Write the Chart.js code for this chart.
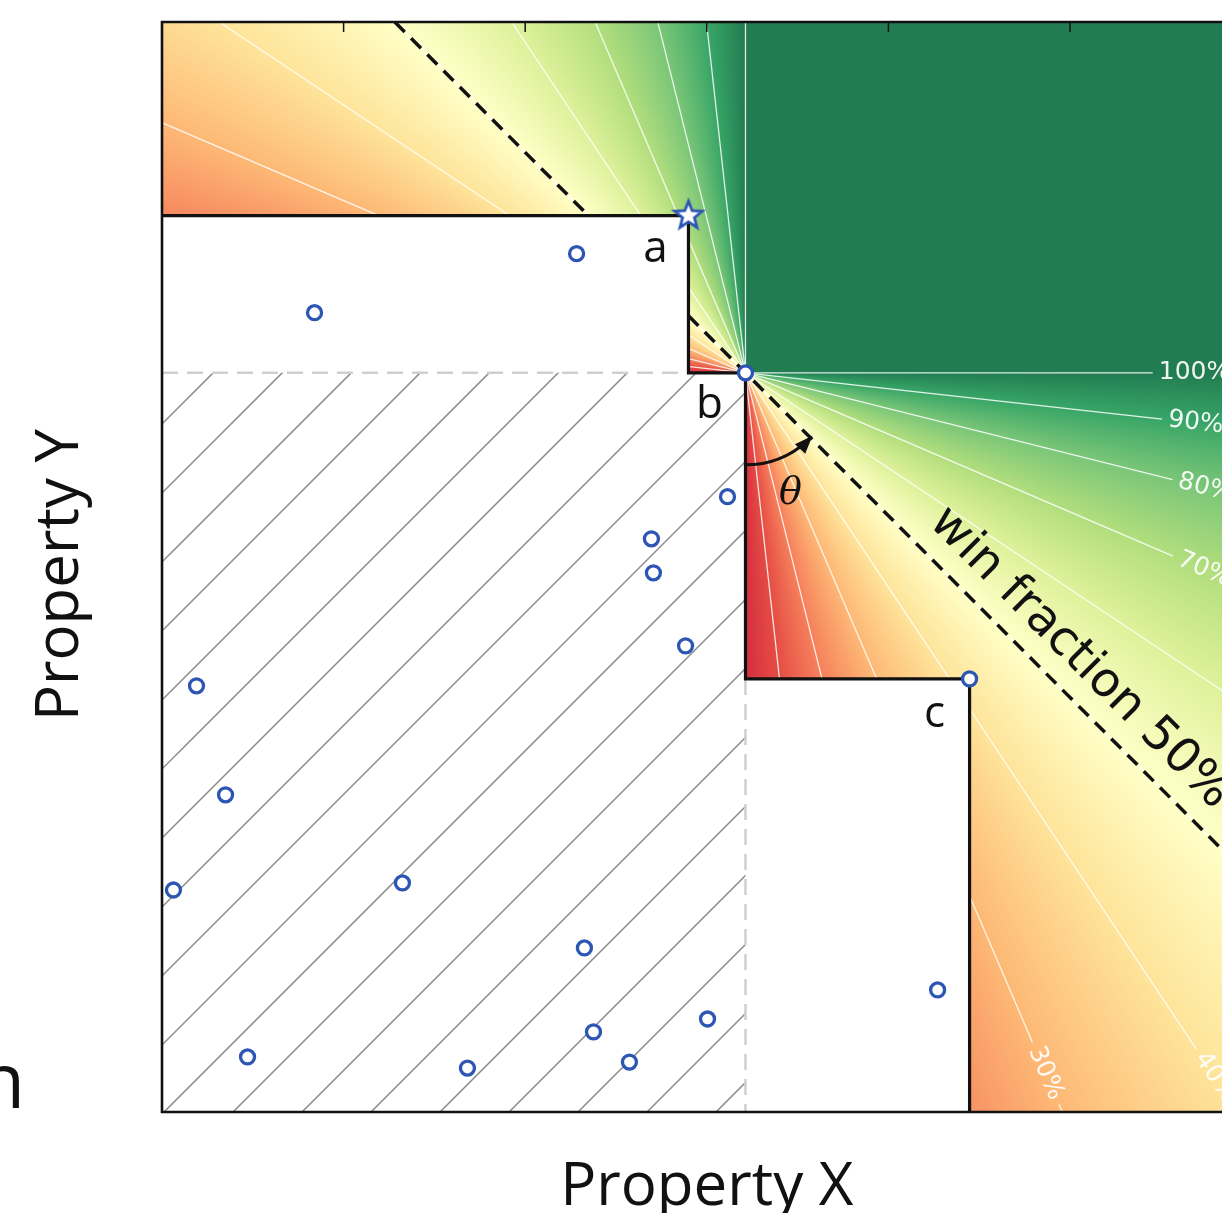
<!DOCTYPE html>
<html lang="en">
<head>
<meta charset="UTF-8" />
<title>Win fraction</title>
<script src="https://cdn.jsdelivr.net/npm/chart.js"></script>
<style>
  html, body { margin: 0; padding: 0; background: #fff; overflow: hidden; }
  canvas { display: block; }
</style>
</head>
<body>
<canvas id="chart" width="1222" height="1213"></canvas>
<script>
// candidates (open blue circles), in axis units
const candX = [2.283, 0.840, 3.114, 2.695, 2.706, 2.883, 0.190, 0.350, 0.063, 1.324, 2.326, 2.376, 3.004, 2.574, 1.682, 0.471, 4.271];
const candY = [4.725, 4.400, 3.387, 3.155, 2.968, 2.566, 2.346, 1.746, 1.222, 1.261, 0.903, 0.441, 0.512, 0.275, 0.242, 0.303, 0.672];

// pareto front points a, b, c (b is the reference for theta)
const frontNames = ['a', 'b', 'c'];
const frontX = [2.899, 3.213, 4.447];
const frontY = [4.934, 4.069, 2.384];

// win fraction contour levels
const levels = [0.1, 0.2, 0.3, 0.4, 0.5, 0.6, 0.7, 0.8, 0.9, 1.0];
const levelNames = ['10%', '20%', '30%', '40%', '50%', '60%', '70%', '80%', '90%', '100%'];

const xTicks = [1, 2, 3, 4, 5];
const xMax = 5.837, yMax = 6;

const ax = frontX[0], ay = frontY[0];
const bx = frontX[1], by = frontY[1];
const cx = frontX[2], cy = frontY[2];

const BLUE = '#2d55b4';

// RdYlGn-like, with a brighter red end
const rdylgn = [[205,15,35],[225,50,40],[244,109,67],[253,174,97],[254,224,139],[255,255,191],
                [217,239,139],[166,217,106],[102,189,99],[26,152,80],[0,104,55]];
const ALPHA = 0.87;
function cmap(f) {
    const t = Math.max(0, Math.min(1, f)) * 10;
    const i = Math.min(9, Math.floor(t));
    const u = t - i;
    const c0 = rdylgn[i], c1 = rdylgn[i + 1];
    return c0.map((v, k) => {
        const c = v + (c1[k] - v) * u;
        return Math.round(255 + (c - 255) * ALPHA);
    });
}
const lut = [];
for (let i = 0; i <= 1000; i++) lut.push(cmap(i / 1000));

// where the inline contour labels sit (px from b along the ray)
const labelAt = { 2: 762, 3: 847, 6: 499, 7: 474, 8: 453, 9: 449 };

// star marker for point a
const starImg = document.createElement('canvas');
starImg.width = 38; starImg.height = 38;
(function () {
    const g = starImg.getContext('2d');
    g.beginPath();
    for (let k = 0; k < 10; k++) {
        const r = k % 2 === 0 ? 14.5 : 6.2;
        const t = -Math.PI / 2 + k * Math.PI / 5;
        const px = 19 + r * Math.cos(t), py = 19 + r * Math.sin(t);
        if (k === 0) g.moveTo(px, py); else g.lineTo(px, py);
    }
    g.closePath();
    g.fillStyle = '#fff';
    g.fill();
    g.lineWidth = 2.8;
    g.strokeStyle = BLUE;
    g.stroke();
})();

const fieldPlugin = {
    id: 'field',
    beforeDatasetsDraw(chart) {
        const { ctx, chartArea: area, scales } = chart;
        const X = scales.x, Y = scales.y;
        const bpx = X.getPixelForValue(bx), bpy = Y.getPixelForValue(by);
        const left = Math.round(area.left), top = Math.round(area.top);
        const w = Math.round(area.right) - left, h = Math.round(area.bottom) - top;

        // heat map of win fraction around b
        const img = ctx.createImageData(w, h);
        const d = img.data;
        for (let j = 0; j < h; j++) {
            const dy = top + j + 0.5 - bpy;
            for (let i = 0; i < w; i++) {
                const dx = left + i + 0.5 - bpx;
                let f;
                if (dx >= 0 && dy <= 0) f = 1;
                else if (dx >= 0) f = dx / (dx + dy);
                else if (dy <= 0) f = -dy / (-dx - dy);
                else f = 0;
                const c = lut[Math.round(f * 1000)];
                const o = (j * w + i) * 4;
                d[o] = c[0]; d[o + 1] = c[1]; d[o + 2] = c[2]; d[o + 3] = 255;
            }
        }
        ctx.putImageData(img, left, top);

        ctx.save();
        ctx.beginPath();
        ctx.rect(area.left, area.top, area.right - area.left, area.bottom - area.top);
        ctx.clip();

        // contour rays from b
        ctx.strokeStyle = 'rgba(255,255,255,0.85)';
        ctx.fillStyle = 'rgba(255,255,255,0.92)';
        ctx.lineWidth = 1.3;
        ctx.font = '25px "DejaVu Sans"';
        ctx.textAlign = 'center';
        ctx.textBaseline = 'middle';
        levels.forEach((f, k) => {
            // lower right quadrant
            let ux = f, uy = 1 - f;
            let n = Math.hypot(ux, uy); ux /= n; uy /= n;
            const L = 2000;
            if (labelAt[k] !== undefined) {
                const tw = ctx.measureText(levelNames[k]).width;
                const gap = tw / 2 + 6;
                const dl = labelAt[k];
                ctx.beginPath();
                ctx.moveTo(bpx, bpy);
                ctx.lineTo(bpx + ux * (dl - gap), bpy + uy * (dl - gap));
                ctx.moveTo(bpx + ux * (dl + gap), bpy + uy * (dl + gap));
                ctx.lineTo(bpx + ux * L, bpy + uy * L);
                ctx.stroke();
                ctx.save();
                ctx.translate(bpx + ux * dl, bpy + uy * dl);
                ctx.rotate(Math.atan2(uy, ux));
                ctx.fillText(levelNames[k], 0, 0);
                ctx.restore();
            } else {
                ctx.beginPath();
                ctx.moveTo(bpx, bpy);
                ctx.lineTo(bpx + ux * L, bpy + uy * L);
                ctx.stroke();
            }
            // upper left quadrant
            let vx = -(1 - f), vy = -f;
            n = Math.hypot(vx, vy); vx /= n; vy /= n;
            ctx.beginPath();
            ctx.moveTo(bpx, bpy);
            ctx.lineTo(bpx + vx * L, bpy + vy * L);
            ctx.stroke();
        });

        // region dominated by the front
        const apx = X.getPixelForValue(ax), apy = Y.getPixelForValue(ay);
        const cpx = X.getPixelForValue(cx), cpy = Y.getPixelForValue(cy);
        ctx.fillStyle = '#fff';
        ctx.beginPath();
        ctx.moveTo(area.left, apy);
        ctx.lineTo(apx, apy);
        ctx.lineTo(apx, bpy);
        ctx.lineTo(bpx, bpy);
        ctx.lineTo(bpx, cpy);
        ctx.lineTo(cpx, cpy);
        ctx.lineTo(cpx, area.bottom);
        ctx.lineTo(area.left, area.bottom);
        ctx.closePath();
        ctx.fill();

        // hatching of the region dominated by b
        ctx.beginPath();
        ctx.rect(area.left, bpy, bpx - area.left, area.bottom - bpy);
        ctx.clip();
        ctx.strokeStyle = '#8a8a8a';
        ctx.lineWidth = 1.5;
        const H = area.bottom - area.top;
        ctx.beginPath();
        for (let k = -20; k < 20; k++) {
            const x0 = area.left + 2 + k * 69;
            ctx.moveTo(x0, area.bottom);
            ctx.lineTo(x0 + H, area.bottom - H);
        }
        ctx.stroke();
        ctx.restore();
    }
};

const annotPlugin = {
    id: 'annot',
    afterDatasetsDraw(chart) {
        const { ctx, chartArea: area, scales } = chart;
        const X = scales.x, Y = scales.y;
        const bpx = X.getPixelForValue(bx), bpy = Y.getPixelForValue(by);
        ctx.save();

        // front labels
        ctx.fillStyle = '#111';
        ctx.font = '44px "Open Sans"';
        ctx.textAlign = 'center';
        ctx.textBaseline = 'alphabetic';
        const offs = [[-33, 46], [-36, 45], [-35, 48]];
        frontNames.forEach((s, k) => {
            ctx.fillText(s, X.getPixelForValue(frontX[k]) + offs[k][0], Y.getPixelForValue(frontY[k]) + offs[k][1]);
        });

        // theta arc with arrow
        const r = 92;
        const a0 = Math.PI / 2, a1 = Math.PI / 4 + 0.05;
        ctx.strokeStyle = '#111';
        ctx.lineWidth = 3;
        ctx.beginPath();
        ctx.arc(bpx, bpy, r, a0, a1, true);
        ctx.stroke();
        const tip = Math.PI / 4 - 0.03;
        const tx = bpx + r * Math.cos(tip), ty = bpy + r * Math.sin(tip);
        const dirx = Math.sin(tip), diry = -Math.cos(tip);
        ctx.fillStyle = '#111';
        ctx.beginPath();
        ctx.moveTo(tx, ty);
        ctx.lineTo(tx - dirx * 18 - diry * 7, ty - diry * 18 + dirx * 7);
        ctx.lineTo(tx - dirx * 18 + diry * 7, ty - diry * 18 - dirx * 7);
        ctx.closePath();
        ctx.fill();
        ctx.font = 'italic 38px "DejaVu Serif"';
        ctx.textBaseline = 'middle';
        ctx.fillText('\u03B8', bpx + 45, bpy + 121);

        // win fraction text along the dashed line
        ctx.save();
        ctx.translate(bpx, bpy);
        ctx.rotate(Math.PI / 4);
        ctx.font = '48px "DejaVu Sans"';
        ctx.textAlign = 'left';
        ctx.textBaseline = 'alphabetic';
        ctx.fillText('win fraction 50%', 236, -22);
        ctx.restore();

        // inward ticks on top
        ctx.strokeStyle = '#111';
        ctx.lineWidth = 1.5;
        ctx.beginPath();
        xTicks.forEach(v => {
            const px = X.getPixelForValue(v);
            ctx.moveTo(px, area.top);
            ctx.lineTo(px, area.top + 10);
        });
        ctx.stroke();

        // frame
        ctx.lineWidth = 2.6;
        ctx.beginPath();
        ctx.moveTo(area.right + 2, area.top);
        ctx.lineTo(area.left, area.top);
        ctx.lineTo(area.left, area.bottom);
        ctx.lineTo(area.right + 2, area.bottom);
        ctx.stroke();

        // axis titles
        ctx.fillStyle = '#111';
        ctx.font = '60px "Open Sans"';
        ctx.textAlign = 'center';
        ctx.textBaseline = 'alphabetic';
        ctx.fillText('Property X', X.getPixelForValue(3), 1205);
        ctx.save();
        ctx.translate(78, (area.top + area.bottom) / 2 + 8);
        ctx.rotate(-Math.PI / 2);
        ctx.fillText('Property Y', 0, 0);
        ctx.restore();
        ctx.font = '76px "Open Sans"';
        ctx.textAlign = 'right';
        ctx.fillText('n', 25, 1108);
        ctx.restore();
    }
};

const dashLine = {
    showLine: true, pointRadius: 0, borderColor: '#111', borderWidth: 3.5,
    borderDash: [14, 9], order: 4
};

new Chart(document.getElementById('chart'), {
    type: 'scatter',
    data: {
        datasets: [
            {
                label: 'candidates',
                data: candX.map((x, i) => ({ x, y: candY[i] }))
                    .concat([{ x: bx, y: by }, { x: cx, y: cy }]),
                pointStyle: 'circle',
                pointRadius: 7,
                borderWidth: 3.3,
                borderColor: BLUE,
                backgroundColor: '#fff',
                order: 0
            },
            {
                label: 'a',
                data: [{ x: ax, y: ay }],
                pointStyle: starImg,
                order: 0
            },
            {
                label: 'front',
                data: [{ x: 0, y: ay }, { x: ax, y: ay }, { x: bx, y: by }, { x: cx, y: cy }, { x: cx, y: 0 }],
                showLine: true,
                stepped: 'after',
                pointRadius: 0,
                borderColor: '#111',
                borderWidth: 3.2,
                order: 1
            },
            {
                label: 'bound h',
                data: [{ x: 0, y: by }, { x: ax, y: by }],
                showLine: true, pointRadius: 0, borderColor: '#cfcfcf', borderWidth: 2.5,
                borderDash: [16, 9], order: 2
            },
            {
                label: 'bound v',
                data: [{ x: bx, y: cy }, { x: bx, y: 0 }],
                showLine: true, pointRadius: 0, borderColor: '#cfcfcf', borderWidth: 2.5,
                borderDash: [16, 9], order: 2
            },
            Object.assign({
                label: '50% upper',
                data: [{ x: bx - (yMax - by), y: yMax }, { x: bx - (ay - by), y: ay }]
            }, dashLine),
            Object.assign({
                label: '50% lower',
                data: [{ x: ax, y: by + (bx - ax) }, { x: bx + by, y: 0 }]
            }, dashLine)
        ]
    },
    options: {
        responsive: false,
        animation: false,
        devicePixelRatio: 1,
        layout: { autoPadding: false, padding: { left: 162, top: 22, right: 0, bottom: 101 } },
        elements: { line: { tension: 0 } },
        scales: {
            x: { type: 'linear', min: 0, max: xMax, display: false },
            y: { type: 'linear', min: 0, max: yMax, display: false }
        },
        plugins: { legend: { display: false }, tooltip: { enabled: false } }
    },
    plugins: [fieldPlugin, annotPlugin]
});
</script>
</body>
</html>
